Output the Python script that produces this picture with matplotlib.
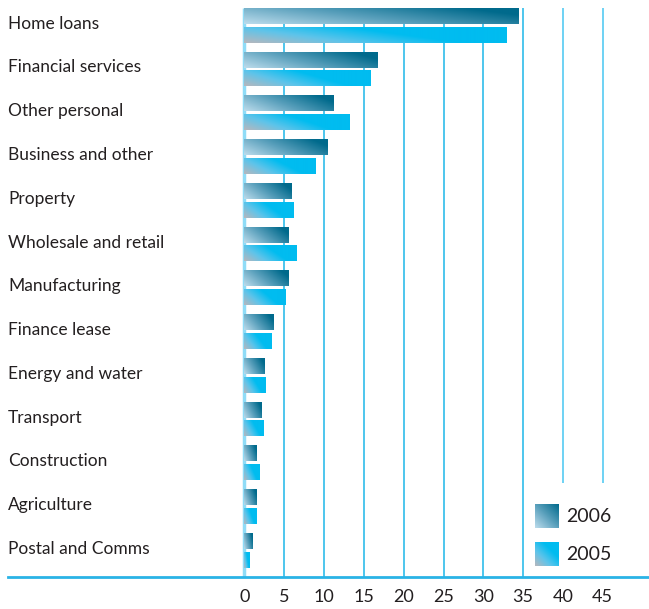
import numpy as np
import matplotlib
matplotlib.use("Agg")
import matplotlib.pyplot as plt
from matplotlib.colors import LinearSegmentedColormap

categories = ["Home loans", "Financial services", "Other personal", "Business and other",
              "Property", "Wholesale and retail", "Manufacturing", "Finance lease",
              "Energy and water", "Transport", "Construction", "Agriculture", "Postal and Comms"]
values_2006 = [34.5, 16.8, 11.2, 10.5, 6.0, 5.6, 5.6, 3.7, 2.6, 2.2, 1.6, 1.6, 1.1]
values_2005 = [33.0, 15.9, 13.3, 9.0, 6.2, 6.6, 5.2, 3.45, 2.7, 2.4, 1.9, 1.6, 0.7]
series_labels = ["2006", "2005"]
xticks = [0, 5, 10, 15, 20, 25, 30, 35, 40, 45]

plt.rcParams['font.family'] = ['Lato', 'DejaVu Sans']

W, H = 649, 609
fig = plt.figure(figsize=(W / 100, H / 100), dpi=100)
# axes from px x=8..649, y=0..577 (from top)
ax = fig.add_axes([8 / W, (H - 577) / H, (W - 8) / W, 577 / H])

ppu = 7.96
x0px = 244.5
xmin = (8 - x0px) / ppu
xmax = (649 - x0px) / ppu
gs = 43.75
c0 = 25.5
ymin_d = -c0 / gs
ymax_d = (577 - c0) / gs

cmap06 = LinearSegmentedColormap.from_list("c06", ["#bcdcec", "#5aa0bc", "#006a8c"])
cmap05 = LinearSegmentedColormap.from_list("c05", ["#b7b7bd", "#5ec4ea", "#00bcf0", "#00bcf0"])

grid_col = "#1cb6e8"
top_d = (8 - c0) / gs
legend_top = (483 - c0) / gs
for xv in xticks:
    if xv == 0:
        ax.vlines(xv, top_d, ymax_d, color="#8fdcf7", lw=2.5, zorder=1)
    elif xv >= 40:
        ax.vlines(xv, top_d, legend_top, color="#55cbf2", lw=1.2, zorder=1)
    else:
        ax.vlines(xv, top_d, ymax_d, color=grid_col, lw=1.1, zorder=1)


def grad_img(cmap):
    u = np.linspace(0, 1, 256)[None, :]
    v = np.linspace(1, 0, 64)[:, None]
    t = np.clip(u * 0.8 + v * 0.35, 0, 1)
    return cmap(t)


bh = 15.5 / gs
off = 9.3 / gs
for i, (cat, a, b) in enumerate(zip(categories, values_2006, values_2005)):
    for val, dy, cm in ((a, -off, cmap06), (b, off, cmap05)):
        yc = i + dy
        ax.imshow(grad_img(cm), extent=(0, val, yc + bh / 2, yc - bh / 2), aspect="auto",
                  interpolation="bilinear", zorder=3)
    ax.text(0, i - 0.04, cat, transform=ax.get_yaxis_transform(), ha="left", va="center",
            fontsize=12.5, color="#231f20")

ax.set_xlim(xmin, xmax)
ax.set_ylim(ymax_d, ymin_d)
ax.set_xticks(xticks)
ax.set_xticklabels([str(x) for x in xticks], fontsize=13, color="#231f20")
ax.tick_params(axis="x", length=0, pad=9)
ax.set_yticks([])
for s in ["top", "left", "right"]:
    ax.spines[s].set_visible(False)
ax.spines["bottom"].set_color("#2ab3e6")
ax.spines["bottom"].set_linewidth(2)

# legend
for lab, cm, ytop in ((series_labels[0], cmap06, 504), (series_labels[1], cmap05, 542)):
    lax = fig.add_axes([535 / W, (H - ytop - 24) / H, 24 / W, 24 / H])
    u = np.linspace(0, 1, 64)[None, :]
    v = np.linspace(1, 0, 64)[:, None]
    lax.imshow(cm(np.clip(u * 0.5 + v * 0.5, 0, 1)), aspect="auto", interpolation="bilinear")
    lax.axis("off")
    fig.text(566 / W, (H - ytop - 13) / H, lab, fontsize=14, color="#231f20", ha="left", va="center")

fig.savefig("out.png", dpi=100)
